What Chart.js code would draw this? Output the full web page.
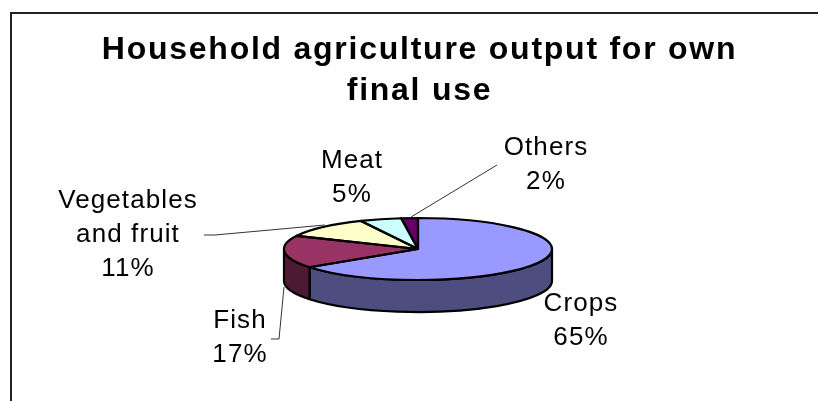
<!DOCTYPE html>
<html>
<head>
<meta charset="utf-8">
<script src="https://cdn.jsdelivr.net/npm/chart.js@4/dist/chart.umd.js"></script>
<style>
    html, body { margin: 0; background: #fff; overflow: hidden; }
    #marco { position: absolute; left: 10px; top: 12px; right: 0; bottom: 0; border-left: 2px solid #222; border-top: 2px solid #222; }
    #caja { position: absolute; left: 0; top: 0; width: 818px; height: 401px; }
</style>
</head>
<body>
<div id="marco"></div>
<div id="caja"><canvas id="grafico"></canvas></div>
<script>
var categorias = ['Crops', 'Fish', 'Vegetables and fruit', 'Meat', 'Others'];
var valores = [65, 17, 11, 5, 2];
var colores = ['#9999FF', '#993366', '#FFFFCC', '#CCFFFF', '#660066'];
var coloresLado = ['#4D4D80', '#4D1A33', '#808066', '#668080', '#330033'];

// where the flattened pie sits on the page
var pie3d = { cx: 418, cy: 249, rx: 134, ry: 31, alto: 32 };

// label blocks: one entry per category, lines are built from categorias/valores
var etiquetas = [
    { x: 581, y: 311, lineas: ['Crops'] },
    { x: 240, y: 328, lineas: ['Fish'] },
    { x: 128, y: 208, lineas: ['Vegetables', 'and fruit'] },
    { x: 352, y: 168, lineas: ['Meat'] },
    { x: 546, y: 155, lineas: ['Others'] }
];

// leader lines
var guias = [
    [[204, 235], [215, 235], [325, 225]],
    [[271, 339], [279, 339], [284, 287]],
    [[497, 165], [411, 217]]
];

var pieAchatado = {
    id: 'pieAchatado',
    beforeDraw: function(chart) {
        chart.ctx.letterSpacing = '1.75px';
    },
    beforeDatasetsDraw: function(chart) {
        var ctx = chart.ctx;
        var arcos = chart.getDatasetMeta(0).data;

        // side wall, only the front half of the ellipse can be seen
        ctx.save();
        ctx.lineWidth = 2.2;
        ctx.strokeStyle = '#000';
        ctx.lineJoin = 'round';
        arcos.forEach(function(arco, i) {
            var a = Math.max(arco.startAngle, 0);
            var b = Math.min(arco.endAngle, Math.PI);
            if (b <= a) { return; }
            ctx.beginPath();
            ctx.ellipse(pie3d.cx, pie3d.cy, pie3d.rx, pie3d.ry, 0, a, b);
            ctx.ellipse(pie3d.cx, pie3d.cy + pie3d.alto, pie3d.rx, pie3d.ry, 0, b, a, true);
            ctx.closePath();
            ctx.fillStyle = coloresLado[i];
            ctx.fill();
            ctx.stroke();
        });
        ctx.restore();

        // the library draws the top face, squashed into the ellipse
        var p = arcos[0];
        ctx.save();
        ctx.translate(pie3d.cx, pie3d.cy);
        ctx.scale(pie3d.rx / p.outerRadius, pie3d.ry / p.outerRadius);
        ctx.translate(-p.x, -p.y);
    },
    afterDatasetsDraw: function(chart) {
        var ctx = chart.ctx;
        ctx.restore();

        // outlines drawn without the transform so the stroke stays even
        ctx.save();
        ctx.lineWidth = 2.2;
        ctx.strokeStyle = '#000';
        ctx.lineJoin = 'round';
        chart.getDatasetMeta(0).data.forEach(function(arco) {
            ctx.beginPath();
            ctx.moveTo(pie3d.cx, pie3d.cy);
            ctx.ellipse(pie3d.cx, pie3d.cy, pie3d.rx, pie3d.ry, 0, arco.startAngle, arco.endAngle);
            ctx.closePath();
            ctx.stroke();
        });
        ctx.restore();
    },
    afterDraw: function(chart) {
        var ctx = chart.ctx;
        ctx.save();

        ctx.lineWidth = 1;
        ctx.strokeStyle = '#333';
        guias.forEach(function(guia) {
            ctx.beginPath();
            guia.forEach(function(punto, i) {
                if (i === 0) { ctx.moveTo(punto[0], punto[1]); }
                else { ctx.lineTo(punto[0], punto[1]); }
            });
            ctx.stroke();
        });

        ctx.font = '26px "Liberation Sans"';
        ctx.letterSpacing = '1.1px';
        ctx.fillStyle = '#000';
        ctx.textAlign = 'center';
        etiquetas.forEach(function(et, i) {
            var lineas = et.lineas.concat(valores[i] + '%');
            lineas.forEach(function(linea, n) {
                ctx.fillText(linea, et.x, et.y + n * 34);
            });
        });
        ctx.restore();
    }
};

new Chart(document.getElementById('grafico'), {
    type: 'pie',
    data: {
        labels: categorias,
        datasets: [{
            data: valores,
            backgroundColor: colores,
            borderWidth: 0,
            clip: false
        }]
    },
    options: {
        responsive: true,
        maintainAspectRatio: false,
        animation: false,
        layout: { padding: { left: 21 } },
        plugins: {
            legend: { display: false },
            tooltip: { enabled: false },
            title: {
                display: true,
                text: ['Household agriculture output for own', 'final use'],
                color: '#000',
                font: { family: '"Liberation Sans"', size: 32, weight: 'bold', lineHeight: 1.28 },
                padding: { top: 30, bottom: 10 }
            }
        }
    },
    plugins: [pieAchatado]
});
</script>
</body>
</html>
